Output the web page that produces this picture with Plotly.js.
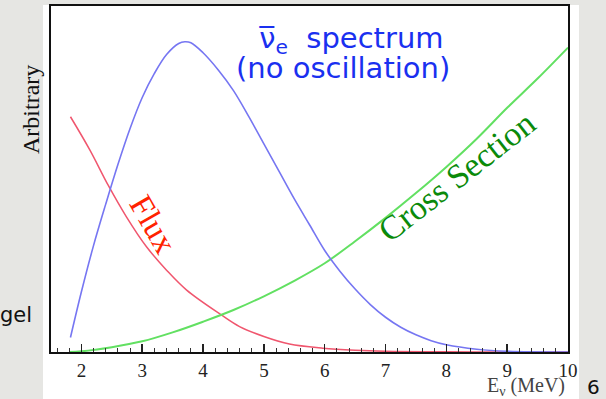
<!DOCTYPE html>
<html>
<head>
<meta charset="utf-8">
<script src="https://cdn.plot.ly/plotly-3.0.1.min.js"></script>
<style>html,body{margin:0;padding:0;background:#e6e6e3;}#chart{width:606px;height:399px;}</style>
</head>
<body>
<div id="chart"></div>
<script>
// Antineutrino spectrum (no oscillation), arbitrary units
const spectrumE = [1.82, 2.0, 2.2, 2.4, 2.6, 2.8, 3.0, 3.2, 3.4, 3.6, 3.7, 3.8, 4.0, 4.25, 4.5, 4.75, 5.0, 5.25, 5.5, 5.75, 6.0, 6.25, 6.5, 6.75, 7.0, 7.25, 7.5, 7.75, 8.0, 8.5, 9.0, 10.0];
const spectrumV = [0.042, 0.175, 0.31, 0.43, 0.545, 0.65, 0.74, 0.81, 0.865, 0.897, 0.902, 0.899, 0.87, 0.82, 0.76, 0.685, 0.605, 0.525, 0.445, 0.37, 0.295, 0.235, 0.183, 0.138, 0.101, 0.072, 0.05, 0.033, 0.021, 0.008, 0.002, 0.0];
// Reactor flux
const fluxE = [1.82, 2.14, 2.44, 2.74, 3.07, 3.4, 3.73, 4.3, 4.6, 5.0, 5.42, 5.97, 6.5, 7.0, 8.0, 9.0, 10.0];
const fluxV = [0.684, 0.587, 0.485, 0.393, 0.306, 0.238, 0.180, 0.108, 0.074, 0.045, 0.023, 0.011, 0.005, 0.002, 0.0005, 0.0, 0.0];
// IBD cross section
const crossE = [1.8, 2.0, 2.5, 3.0, 3.5, 4.0, 4.5, 5.0, 5.5, 6.0, 6.5, 7.0, 7.5, 8.0, 8.5, 9.0, 9.5, 10.0];
const crossV = [0.0, 0.002, 0.014, 0.031, 0.057, 0.088, 0.122, 0.162, 0.207, 0.258, 0.322, 0.39, 0.462, 0.538, 0.62, 0.71, 0.795, 0.885];
// Axis ticks
const tickVals = [2, 3, 4, 5, 6, 7, 8, 9, 10];
const tickText = ["2", "3", "4", "5", "6", "7", "8", "9", "10"];

const W = 606, H = 399;
const L = 51, R = 568, T = 6, B = 352;
const px = v => (v - L) / (R - L);
const py = v => (B - v) / (B - T);
const serif = "Liberation Serif, Times New Roman, serif";
const sans = "DejaVu Sans, sans-serif";

const traces = [
  {x: fluxE, y: fluxV, mode: "lines", line: {color: "#f0566e", width: 1.5, shape: "spline", smoothing: 1}, hoverinfo: "skip"},
  {x: crossE, y: crossV, mode: "lines", line: {color: "#62e062", width: 2, shape: "spline", smoothing: 1}, hoverinfo: "skip"},
  {x: spectrumE, y: spectrumV, mode: "lines", line: {color: "#7676f2", width: 1.6, shape: "spline", smoothing: 1}, hoverinfo: "skip"}
];

function ann(x, y, text, font, extra) {
  return Object.assign({xref: "paper", yref: "paper", x: px(x), y: py(y), text: text, showarrow: false,
    xanchor: "center", yanchor: "middle", font: font}, extra || {});
}

const layout = {
  width: W, height: H,
  margin: {l: L, r: W - R, t: T, b: H - B},
  paper_bgcolor: "#e6e6e3",
  plot_bgcolor: "rgba(0,0,0,0)",
  showlegend: false,
  xaxis: {
    range: [1.5, 10], tickvals: tickVals, ticktext: tickText,
    ticks: "inside", ticklen: 8, tickwidth: 1.5, tickcolor: "#222",
    minor: {dtick: 0.2, tick0: 0, ticks: "inside", ticklen: 4, tickwidth: 1, tickcolor: "#333"},
    showline: true, linecolor: "#111", linewidth: 2, mirror: true,
    showgrid: false, zeroline: false,
    tickfont: {family: serif, size: 19, color: "#222"}
  },
  yaxis: {
    range: [0, 1.006], showticklabels: false, ticks: "",
    showline: true, linecolor: "#111", linewidth: 2, mirror: true,
    showgrid: false, zeroline: false
  },
  shapes: [
    {type: "rect", xref: "paper", yref: "paper", x0: px(43), x1: px(579), y0: py(399), y1: py(5),
     fillcolor: "#ffffff", line: {width: 0}, layer: "below"}
  ],
  annotations: [
    ann(31, 110, "Arbitrary", {family: serif, size: 24, color: "#111"}, {textangle: -90}),
    ann(351, 40, "ν\u0305<sub>e</sub>  spectrum", {family: sans, size: 29, color: "#1a30f0"}),
    ann(343, 68, "(no oscillation)", {family: sans, size: 29, color: "#1a30f0"}),
    ann(153, 224, "Flux", {family: serif, size: 33, color: "#ff2200"}, {textangle: 60}),
    ann(457, 177, "Cross Section", {family: serif, size: 34, color: "#0a8a0a"}, {textangle: -38}),
    ann(567, 386, "E<sub>ν</sub> (MeV)", {family: serif, size: 20, color: "#444"}, {xanchor: "right"}),
    ann(34, 315, "gel", {family: sans, size: 21, color: "#111"}, {xanchor: "right"}),
    ann(593, 387, "6", {family: sans, size: 20, color: "#111"})
  ]
};

Plotly.newPlot("chart", traces, layout, {staticPlot: true, displayModeBar: false});
</script>
</body>
</html>
